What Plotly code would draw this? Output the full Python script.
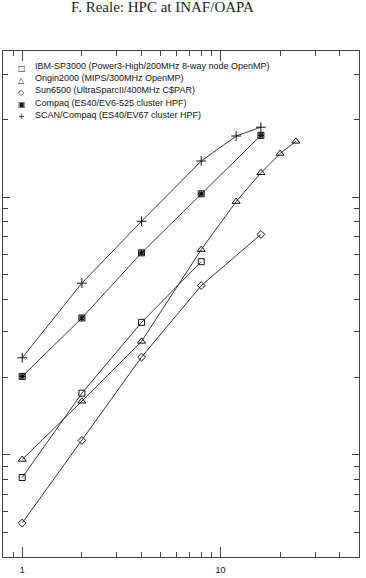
import math
import plotly.graph_objects as go

# ---- data ----
procs_ibm = [1, 2, 4, 8]
ibm = [0.814, 1.73, 3.26, 5.61]
procs_origin = [1, 2, 4, 8, 12, 16, 20, 24]
origin = [0.957, 1.61, 2.75, 6.25, 9.6, 12.42, 14.76, 16.45]
procs_sun = [1, 2, 4, 8, 16]
sun = [0.542, 1.134, 2.39, 4.53, 7.16]
procs_compaq = [1, 2, 4, 8, 16]
compaq = [2.01, 3.39, 6.07, 10.29, 17.35]
procs_scan = [1, 2, 4, 8, 12, 16]
scan = [2.375, 4.63, 8.05, 13.8, 17.25, 18.67]

labels = [
    "IBM-SP3000 (Power3-High/200MHz 8-way node OpenMP)",
    "Origin2000 (MIPS/300MHz OpenMP)",
    "Sun6500 (UltraSparcII/400MHz C$PAR)",
    "Compaq (ES40/EV6-525 cluster HPF)",
    "SCAN/Compaq (ES40/EV67 cluster HPF)",
]
legend_glyphs = ["\u25a1", "\u25b3", "\u25c7", "\u25a3", "+"]
title_text = "F. Reale: HPC at INAF/OAPA"

x_tickvals = [1, 10]
x_ticktext = ["1", "10"]
x_minor = [0.9, 2, 3, 4, 5, 6, 7, 8, 9, 20, 30, 40]
y_tickvals = [1, 10]
y_minor = [0.5, 0.6, 0.7, 0.8, 0.9, 2, 3, 4, 5, 6, 7, 8, 9, 20, 30]

W, H = 366, 578
ML, MR, MT, MB = 3, 7, 51, 12.3
PW, PH = W - ML - MR, H - MT - MB

LINE = "#3a3a3a"
MK = "#111111"
series = [
    (procs_ibm, ibm, "square-open", 6),
    (procs_origin, origin, "triangle-up-open", 7),
    (procs_sun, sun, "diamond-open", 6),
    (procs_compaq, compaq, "square-open", 6),
    (procs_scan, scan, "cross-thin-open", 7),
]

fig = go.Figure()
for (xs, ys, sym, sz), name in zip(series, labels):
    fig.add_trace(go.Scatter(
        x=xs, y=ys, mode="lines+markers", name=name, showlegend=False,
        line=dict(color=LINE, width=1),
        marker=dict(symbol=sym, size=sz, color=MK,
                    line=dict(color=MK, width=1)),
    ))
# asterisk inside the Compaq square marker
fig.add_trace(go.Scatter(
    x=procs_compaq, y=compaq, mode="markers", showlegend=False,
    marker=dict(symbol="asterisk", size=5, color=MK, line=dict(color=MK, width=1.2)),
))


def px2x(px):
    return (px - ML) / PW


def py2y(py):
    return (H - MB - py) / PH


annotations = []
for i, (lab, g) in enumerate(zip(labels, legend_glyphs)):
    yc = 66.5 + 12.3 * i
    annotations.append(dict(
        text=lab, xref="paper", yref="paper", x=px2x(33.3), y=py2y(yc),
        xanchor="left", yanchor="middle", showarrow=False,
        font=dict(family="Liberation Sans", size=9, color="#111"),
    ))
    annotations.append(dict(
        text=g, xref="paper", yref="paper", x=px2x(21.7), y=py2y(yc + 2),
        xanchor="center", yanchor="middle", showarrow=False,
        font=dict(family="DejaVu Sans", size=8, color="#111"),
    ))
annotations.append(dict(
    text=title_text, xref="paper", yref="paper", x=px2x(162.5), y=py2y(6.6),
    xanchor="center", yanchor="middle", showarrow=False,
    font=dict(family="Liberation Serif", size=15, color="#222"),
))

axis_common = dict(
    type="log", showline=True, linecolor="#444", linewidth=1, mirror="ticks",
    ticks="inside", tickcolor="#444", tickwidth=1, showgrid=False, zeroline=False,
)
fig.update_layout(
    width=W, height=H, autosize=False,
    margin=dict(l=ML, r=MR, t=MT, b=MB, pad=0),
    paper_bgcolor="white", plot_bgcolor="white",
    showlegend=False,
    annotations=annotations,
    xaxis=dict(
        **axis_common, range=[math.log10(0.8), math.log10(50)],
        tickmode="array", tickvals=x_tickvals, ticktext=x_ticktext, ticklen=10,
        ticklabelstandoff=4,
        tickfont=dict(family="Liberation Sans", size=9, color="#111"),
        minor=dict(tickmode="array", tickvals=x_minor, ticks="inside", ticklen=5,
                   tickcolor="#444", tickwidth=1, showgrid=False),
    ),
    yaxis=dict(
        **axis_common, range=[math.log10(0.4), 1.567],
        tickmode="array", tickvals=y_tickvals, showticklabels=False, ticklen=7,
        minor=dict(tickmode="array", tickvals=y_minor, ticks="inside", ticklen=5,
                   tickcolor="#444", tickwidth=1, showgrid=False),
    ),
)

fig.write_html("out.html")
